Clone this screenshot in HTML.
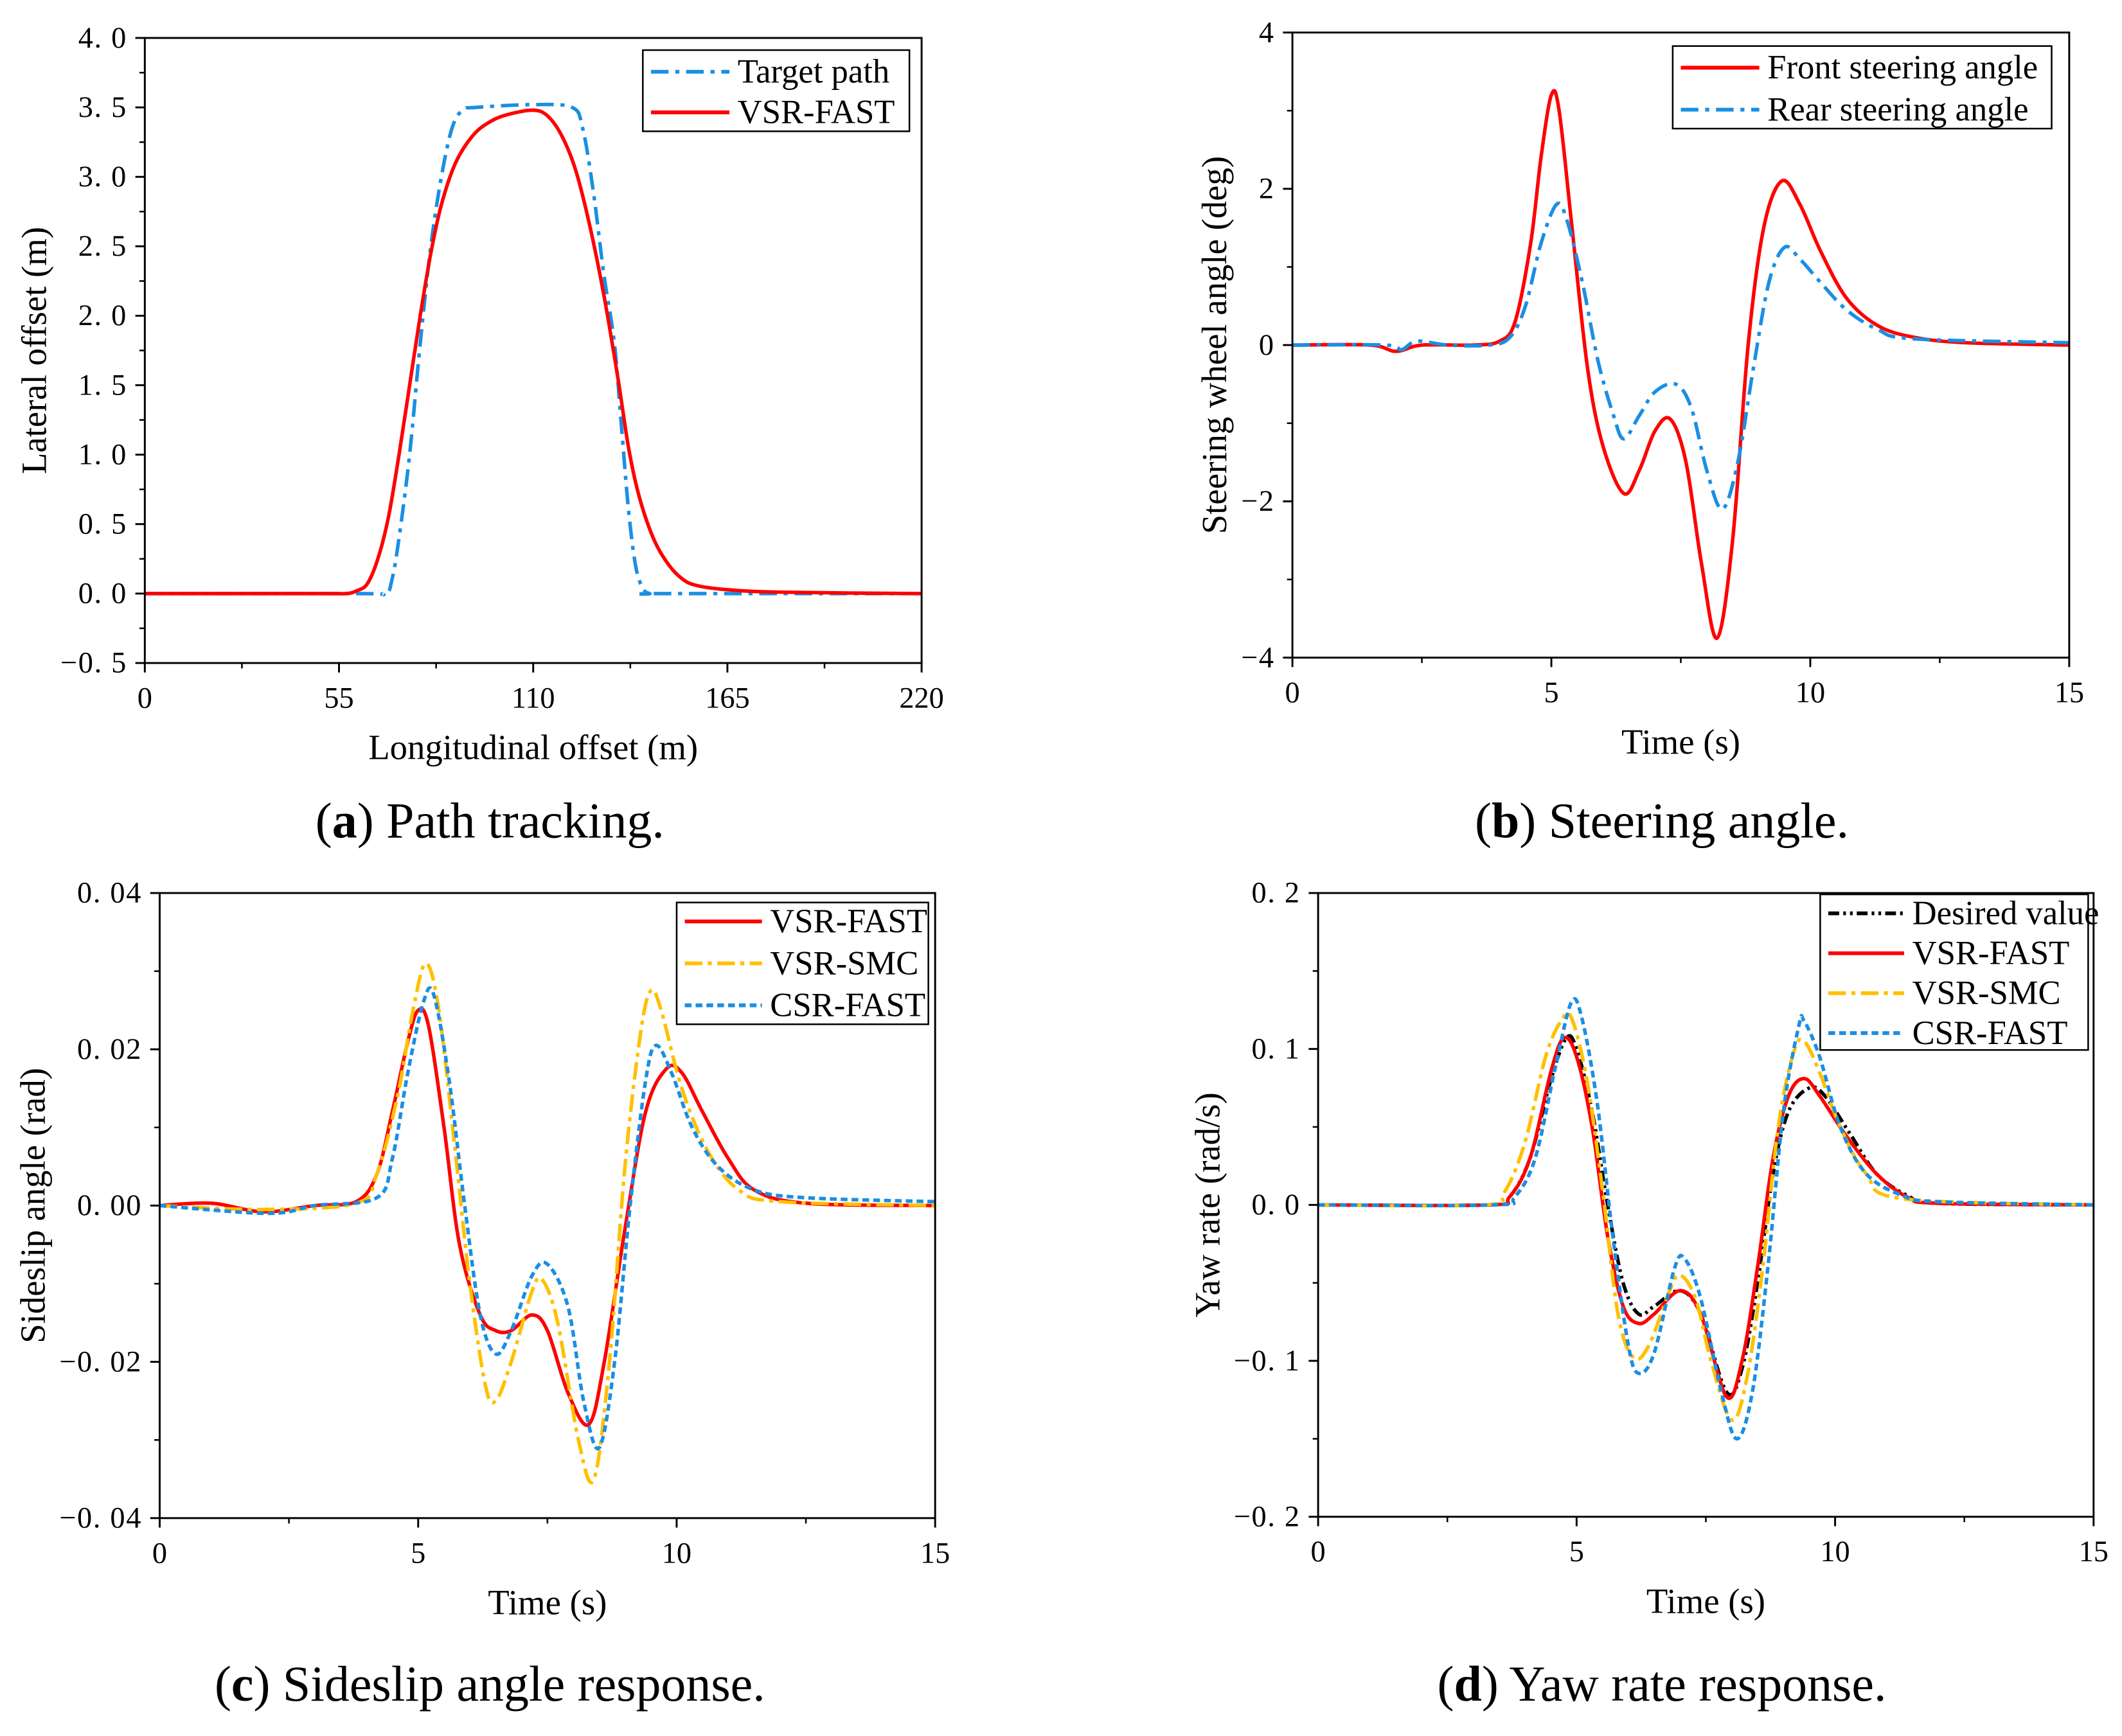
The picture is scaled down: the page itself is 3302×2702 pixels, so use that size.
<!DOCTYPE html>
<html><head><meta charset="utf-8"><style>
html,body{margin:0;padding:0;background:#fff;}
svg{display:block;}
text{font-family:"Liberation Serif",serif;fill:#000;}
</style></head><body>
<svg id="fig" xmlns="http://www.w3.org/2000/svg" width="3302" height="2702" viewBox="0 0 1568 1283">
<rect x="0" y="0" width="1568" height="1283" fill="#fff"/>
</svg>
<script>
// ---------- Panel a data ----------
const aTargetX = [0,60,68,70,72,75,78,81,84,87,90,94,110,121,124,127,130,133,135,137,139,141,143,146,220];
const aTargetY = [0,0,0,0.1,0.4,1.0,1.8,2.5,3.0,3.35,3.48,3.5,3.52,3.5,3.35,2.9,2.3,1.8,1.2,0.6,0.2,0.04,0,0,0];
const aVsrX = [0,50,57,60,63,66,69,72,75,78,81,84,88,93,98,103,110,114,118,122,126,130,134,137,140,144,148,152,156,164,180,220];
const aVsrY = [0,0,0,0.02,0.07,0.25,0.55,1.0,1.5,2.0,2.45,2.8,3.1,3.3,3.4,3.45,3.48,3.44,3.3,3.05,2.65,2.15,1.55,1.05,0.7,0.4,0.22,0.11,0.06,0.03,0.01,0];
const aXTicks = [0,55,110,165,220];
const aYTicks = [-0.5,0,0.5,1,1.5,2,2.5,3,3.5,4];
const aYLabels = ["\u22120. 5","0. 0","0. 5","1. 0","1. 5","2. 0","2. 5","3. 0","3. 5","4. 0"];
// ---------- Panel b data ----------
const bFrontT = [0,1.5,2,2.5,3.5,4,4.3,4.6,4.8,5.0,5.15,5.4,5.7,6.0,6.4,6.7,7.0,7.3,7.6,7.9,8.2,8.5,8.8,9.1,9.45,9.8,10.2,10.7,11.3,12,13,15];
const bFrontV = [0,0,-0.08,0,0,0.05,0.3,1.3,2.4,3.2,3.0,1.5,-0.3,-1.3,-1.9,-1.6,-1.1,-0.95,-1.5,-2.8,-3.75,-2.5,0,1.5,2.1,1.8,1.2,0.6,0.25,0.1,0.03,0];
const bRearT = [0,1.8,2.1,2.4,3,3.8,4.2,4.5,4.8,5.1,5.3,5.6,5.9,6.2,6.4,6.7,7.0,7.4,7.7,8.0,8.3,8.6,8.9,9.2,9.5,9.8,10.2,10.7,11.3,12,15];
const bRearV = [0,0,-0.06,0.05,0,0,0.1,0.5,1.3,1.8,1.6,0.8,-0.2,-0.9,-1.2,-0.9,-0.6,-0.5,-0.8,-1.6,-2.1,-1.5,-0.3,0.8,1.25,1.1,0.8,0.45,0.2,0.08,0.03];
const bXTicks = [0,5,10,15];
const bYTicks = [-4,-2,0,2,4];
const bYLabels = ["\u22124","\u22122","0","2","4"];
// ---------- Panel c data ----------
const cVsrT = [0,1,2,3,3.8,4.2,4.5,4.8,5.0,5.2,5.5,5.8,6.2,6.5,6.8,7.2,7.5,7.9,8.3,8.6,9.0,9.4,9.8,10.1,10.5,11,11.5,12.5,15];
const cVsrV = [0,0.0003,-0.0008,0,0.0005,0.004,0.012,0.021,0.025,0.023,0.01,-0.005,-0.014,-0.016,-0.016,-0.014,-0.016,-0.024,-0.028,-0.02,-0.003,0.012,0.0175,0.017,0.012,0.006,0.002,0.0003,0];
const cSmcT = [0,2,3.8,4.2,4.6,4.9,5.15,5.4,5.7,6.0,6.3,6.5,6.8,7.2,7.4,7.7,8.1,8.4,8.7,9.0,9.3,9.5,9.7,10.1,10.6,11.2,12,15];
const cSmcV = [0,-0.0005,0.0003,0.004,0.014,0.025,0.031,0.025,0.008,-0.01,-0.023,-0.025,-0.02,-0.011,-0.0095,-0.015,-0.03,-0.035,-0.02,0.005,0.022,0.0275,0.025,0.015,0.007,0.002,0.0005,0];
const cCsrT = [0,2.1,3,4.2,4.5,4.8,5.1,5.3,5.6,5.9,6.2,6.5,6.8,7.2,7.5,7.9,8.2,8.5,8.8,9.1,9.4,9.6,9.9,10.3,10.8,11.5,12.5,15];
const cCsrV = [0,-0.001,0,0.001,0.006,0.017,0.026,0.027,0.016,0,-0.014,-0.019,-0.016,-0.009,-0.0075,-0.013,-0.025,-0.031,-0.02,0,0.016,0.0205,0.017,0.01,0.005,0.002,0.001,0.0005];
const cXTicks = [0,5,10,15];
const cYTicks = [-0.04,-0.02,0,0.02,0.04];
const cYLabels = ["\u22120. 04","\u22120. 02","0. 00","0. 02","0. 04"];
// ---------- Panel d data ----------
const dDesT = [0,3.3,3.7,4.1,4.5,4.8,5.0,5.3,5.6,5.9,6.2,6.5,7.0,7.4,7.9,8.2,8.5,8.8,9.1,9.5,9.8,10.3,10.8,11.4,12,15];
const dDesV = [0,0,0.005,0.03,0.08,0.107,0.1,0.06,0,-0.05,-0.07,-0.065,-0.055,-0.07,-0.12,-0.105,-0.05,0.02,0.06,0.075,0.07,0.045,0.02,0.006,0.001,0];
const dVsrT = [0,3.3,3.7,4.1,4.5,4.75,5.0,5.3,5.6,5.9,6.2,6.5,7.0,7.4,7.9,8.2,8.5,8.8,9.1,9.4,9.7,10.2,10.8,11.4,12,15];
const dVsrV = [0,0,0.005,0.03,0.085,0.107,0.095,0.05,-0.02,-0.065,-0.076,-0.07,-0.055,-0.07,-0.123,-0.1,-0.04,0.03,0.07,0.081,0.07,0.045,0.02,0.005,0.001,0];
const dSmcT = [0,3.2,3.6,4.0,4.4,4.7,4.9,5.2,5.5,5.8,6.1,6.4,6.8,7.0,7.3,7.6,8.0,8.3,8.6,8.9,9.2,9.4,9.7,10.1,10.6,11.3,15];
const dSmcV = [0,0,0.008,0.04,0.095,0.118,0.12,0.08,0.01,-0.07,-0.098,-0.09,-0.055,-0.045,-0.06,-0.1,-0.138,-0.11,-0.04,0.05,0.098,0.105,0.085,0.05,0.02,0.004,0];
const dCsrT = [0,3.4,3.8,4.2,4.6,4.9,5.1,5.4,5.7,6.0,6.2,6.5,6.9,7.1,7.4,7.8,8.1,8.4,8.7,9.0,9.3,9.4,9.7,10.1,10.6,11.3,12,15];
const dCsrV = [0,0,0.005,0.03,0.09,0.13,0.12,0.065,-0.02,-0.09,-0.108,-0.095,-0.04,-0.035,-0.06,-0.12,-0.15,-0.12,-0.04,0.06,0.115,0.118,0.095,0.05,0.02,0.006,0.002,0];
const dXTicks = [0,5,10,15];
const dYTicks = [-0.2,-0.1,0,0.1,0.2];
const dYLabels = ["\u22120. 2","\u22120. 1","0. 0","0. 1","0. 2"];

const NS = "http://www.w3.org/2000/svg";
const svg = document.getElementById('fig');
function mk(tag, attrs, parent) {
  const e = document.createElementNS(NS, tag);
  for (const k in attrs) e.setAttribute(k, attrs[k]);
  (parent || svg).appendChild(e);
  return e;
}
function scale(d0, d1, r0, r1) { return v => r0 + (v - d0) / (d1 - d0) * (r1 - r0); }
function pathD(xs, ys, sx, sy) {
  const p = xs.map((x, i) => [sx(x), sy(ys[i])]);
  let d = "M" + p[0][0].toFixed(2) + "," + p[0][1].toFixed(2);
  for (let i = 0; i < p.length - 1; i++) {
    const p0 = p[Math.max(0, i - 1)], p1 = p[i], p2 = p[i + 1], p3 = p[Math.min(p.length - 1, i + 2)];
    const c1x = p1[0] + (p2[0] - p0[0]) / 6, c1y = p1[1] + (p2[1] - p0[1]) / 6;
    const c2x = p2[0] - (p3[0] - p1[0]) / 6, c2y = p2[1] - (p3[1] - p1[1]) / 6;
    d += " C" + c1x.toFixed(2) + "," + c1y.toFixed(2) + " " + c2x.toFixed(2) + "," + c2y.toFixed(2) + " " + p2[0].toFixed(2) + "," + p2[1].toFixed(2);
  }
  return d;
}

function panel(cfg) {
  const g = mk('g', {});
  
  
  const sx = scale(cfg.xd[0], cfg.xd[1], cfg.L, cfg.R);
  const sy = scale(cfg.yd[0], cfg.yd[1], cfg.B, cfg.T);
  const cid = cfg.name + '-clip';
  const defs = mk('defs', {}, g);
  const cp = mk('clipPath', {id: cid}, defs);
  mk('rect', {x: cfg.L, y: cfg.T, width: cfg.R - cfg.L, height: cfg.B - cfg.T}, cp);
  cfg.series.forEach(s => {
    const p = mk('path', {d: pathD(s.x, s.y, sx, sy), fill: 'none', stroke: s.color, 'stroke-width': 2.6, 'stroke-dasharray': s.dash || 'none', 'clip-path': 'url(#' + cid + ')', 'stroke-linejoin': 'round'}, g);
    
    
  });
  const fr = mk('rect', {x: cfg.L, y: cfg.T, width: cfg.R - cfg.L, height: cfg.B - cfg.T, fill: 'none', stroke: '#000', 'stroke-width': 1.4}, g);
  
  
  for (let i = 0; i < cfg.xt.length; i++) {
    const x = sx(cfg.xt[i]);
    mk('line', {x1: x, y1: cfg.B, x2: x, y2: cfg.B + 7, stroke: '#000', 'stroke-width': 1.4}, g);
    const t = mk('text', {x: x, y: cfg.B + 33, 'font-size': 22, 'text-anchor': 'middle'}, g);
    t.textContent = String(cfg.xt[i]);
    
    
    if (i < cfg.xt.length - 1) {
      const xm = sx((cfg.xt[i] + cfg.xt[i + 1]) / 2);
      mk('line', {x1: xm, y1: cfg.B, x2: xm, y2: cfg.B + 4, stroke: '#000', 'stroke-width': 1.2}, g);
    }
  }
  for (let i = 0; i < cfg.yt.length; i++) {
    const y = sy(cfg.yt[i]);
    mk('line', {x1: cfg.L, y1: y, x2: cfg.L - 7, y2: y, stroke: '#000', 'stroke-width': 1.4}, g);
    const t = mk('text', {x: cfg.L - 13, y: y + 7, 'font-size': 22, 'letter-spacing': 0.8, 'text-anchor': 'end'}, g);
    t.textContent = cfg.yl[i];
    
    
    if (i < cfg.yt.length - 1) {
      const n = cfg.yminor;
      for (let k = 1; k < n; k++) {
        const ym = sy(cfg.yt[i] + (cfg.yt[i + 1] - cfg.yt[i]) * k / n);
        mk('line', {x1: cfg.L, y1: ym, x2: cfg.L - 4, y2: ym, stroke: '#000', 'stroke-width': 1.2}, g);
      }
    }
  }
  const xt = mk('text', {x: (cfg.L + cfg.R) / 2, y: cfg.B + 71, 'font-size': 26, 'text-anchor': 'middle'}, g);
  xt.textContent = cfg.xtitle;
  
  
  const cy = (cfg.T + cfg.B) / 2;
  const yt = mk('text', {x: cfg.ytx, y: cy, 'font-size': 26, 'text-anchor': 'middle', transform: 'rotate(-90 ' + cfg.ytx + ' ' + cy + ')'}, g);
  yt.textContent = cfg.ytitle;
  
  
  const lg = cfg.legend;
  const lgg = mk('g', {}, g);
  
  
  mk('rect', {x: lg.x, y: lg.y, width: lg.w, height: lg.h, fill: '#fff', stroke: '#000', 'stroke-width': 1.2}, lgg);
  cfg.series.forEach((s, i) => {
    const y = lg.y0 + i * lg.dy;
    mk('line', {x1: lg.x + 6, y1: y, x2: lg.x + 6 + lg.lw, y2: y, stroke: s.color, 'stroke-width': 2.8, 'stroke-dasharray': s.dash || 'none'}, lgg);
    const t = mk('text', {x: lg.x + lg.lw + 12, y: y + 8, 'font-size': 25}, lgg);
    t.textContent = s.label;
    
    
  });
  const cap = mk('text', {x: cfg.capx, y: cfg.capy, 'font-size': 37, 'text-anchor': 'middle'}, g);
  
  
  const b = mk('tspan', {}, cap); b.textContent = '(';
  const b2 = mk('tspan', {'font-weight': 'bold'}, cap); b2.textContent = cfg.letter;
  const b3 = mk('tspan', {}, cap); b3.textContent = ') ' + cfg.caption;
}

const BLUE = '#1a8fe3', RED = '#ff0000', YEL = '#ffc000';

panel({name: 'panel-a', L: 107, R: 681, T: 28, B: 490, xd: [0, 220], yd: [-0.5, 4], xt: aXTicks, yt: aYTicks, yl: aYLabels, yminor: 2,
  xtitle: 'Longitudinal offset (m)', ytitle: 'Lateral offset (m)', ytx: 34,
  series: [{id: 'target-path-line', x: aTargetX, y: aTargetY, color: BLUE, dash: '13,5,3,5', label: 'Target path'},
           {id: 'vsr-fast-line', x: aVsrX, y: aVsrY, color: RED, label: 'VSR-FAST'}],
  legend: {x: 475, y: 37, w: 197, h: 60, y0: 53, dy: 30, lw: 58},
  capx: 362, capy: 619, letter: 'a', caption: 'Path tracking.'});

panel({name: 'panel-b', L: 955, R: 1529, T: 24, B: 486, xd: [0, 15], yd: [-4, 4], xt: bXTicks, yt: bYTicks, yl: bYLabels, yminor: 2,
  xtitle: 'Time (s)', ytitle: 'Steering wheel angle (deg)', ytx: 906,
  series: [{id: 'front-steering-line', x: bFrontT, y: bFrontV, color: RED, label: 'Front steering angle'},
           {id: 'rear-steering-line', x: bRearT, y: bRearV, color: BLUE, dash: '13,5,3,5', label: 'Rear steering angle'}],
  legend: {x: 1236, y: 34, w: 280, h: 61, y0: 50, dy: 31, lw: 58},
  capx: 1228, capy: 619, letter: 'b', caption: 'Steering angle.'});

panel({name: 'panel-c', L: 118, R: 691, T: 660, B: 1122, xd: [0, 15], yd: [-0.04, 0.04], xt: cXTicks, yt: cYTicks, yl: cYLabels, yminor: 2,
  xtitle: 'Time (s)', ytitle: 'Sideslip angle (rad)', ytx: 33,
  series: [{id: 'vsr-fast-line', x: cVsrT, y: cVsrV, color: RED, label: 'VSR-FAST'},
           {id: 'vsr-smc-line', x: cSmcT, y: cSmcV, color: YEL, dash: '13,4,3,4', label: 'VSR-SMC'},
           {id: 'csr-fast-line', x: cCsrT, y: cCsrV, color: BLUE, dash: '5,3', label: 'CSR-FAST'}],
  legend: {x: 500, y: 667, w: 186, h: 90, y0: 681, dy: 31, lw: 57},
  capx: 362, capy: 1257, letter: 'c', caption: 'Sideslip angle response.'});

panel({name: 'panel-d', L: 974, R: 1547, T: 660, B: 1121, xd: [0, 15], yd: [-0.2, 0.2], xt: dXTicks, yt: dYTicks, yl: dYLabels, yminor: 2,
  xtitle: 'Time (s)', ytitle: 'Yaw rate (rad/s)', ytx: 901,
  series: [{id: 'desired-value-line', x: dDesT, y: dDesV, color: '#000', dash: '8,3,2,3,2,3', label: 'Desired value'},
           {id: 'vsr-fast-line', x: dVsrT, y: dVsrV, color: RED, label: 'VSR-FAST'},
           {id: 'vsr-smc-line', x: dSmcT, y: dSmcV, color: YEL, dash: '13,4,3,4', label: 'VSR-SMC'},
           {id: 'csr-fast-line', x: dCsrT, y: dCsrV, color: BLUE, dash: '5,3', label: 'CSR-FAST'}],
  legend: {x: 1345, y: 661, w: 198, h: 115, y0: 675, dy: 29.5, lw: 56},
  capx: 1228, capy: 1257, letter: 'd', caption: 'Yaw rate response.'});
</script>
</body></html>
